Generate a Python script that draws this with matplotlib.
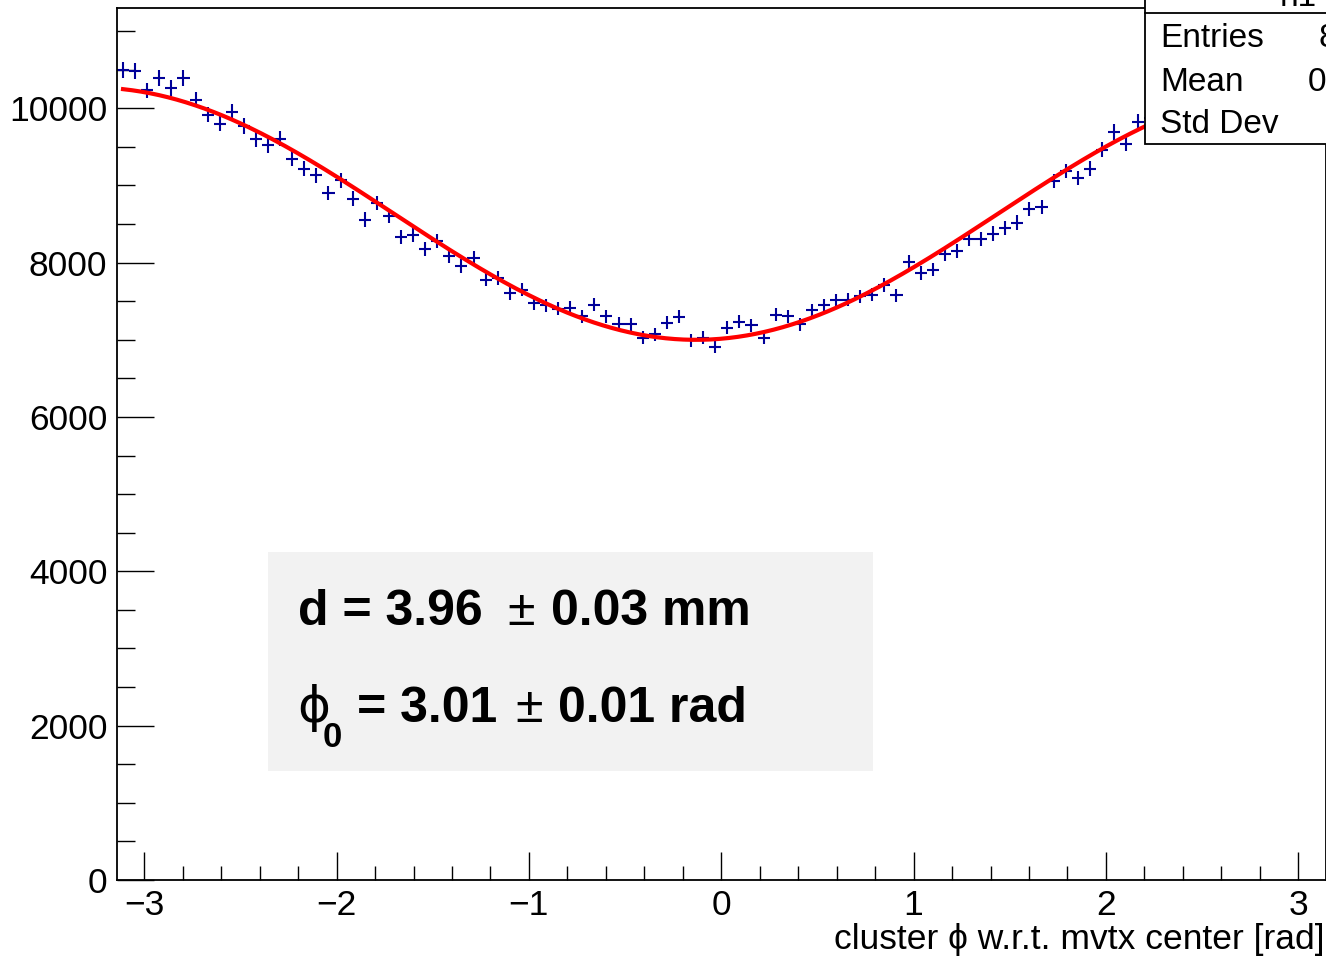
# Cluster phi distribution w.r.t. the MVTX centre, with the offset fit.

import numpy as np
import matplotlib
matplotlib.use("Agg")
import matplotlib.pyplot as plt
from matplotlib.patches import Rectangle
from matplotlib.lines import Line2D

plt.rcParams["font.family"] = ["Liberation Sans", "DejaVu Sans"]

# Data --------------------------------------------------------------------

n_bins = 100
phi_lo, phi_hi = -np.pi, np.pi

# bin contents (bins 85-99 sit behind the stats box)
counts = [10492, 10483, 10233, 10393, 10263, 10397, 10113, 9918, 9802, 9952,
          9770, 9598, 9521, 9607, 9348, 9219, 9132, 8903, 9067, 8830,
          8558, 8773, 8601, 8333, 8355, 8182, 8281, 8083, 7953, 8061,
          7781, 7801, 7607, 7651, 7478, 7448, 7405, 7418, 7306, 7457,
          7306, 7211, 7202, 7030, 7069, 7219, 7297, 6995, 7030, 6908,
          7159, 7232, 7189, 7030, 7327, 7306, 7202, 7383, 7448, 7513,
          7522, 7565, 7587, 7707, 7578, 8009, 7867, 7910, 8117, 8151,
          8303, 8303, 8377, 8454, 8519, 8692, 8722, 9059, 9188, 9097,
          9219, 9465, 9693, 9542, 9823, 9880, 9950, 9990, 10060, 10090,
          10140, 10170, 10230, 10250, 10270, 10310, 10300, 10340, 10330, 10360]

# fit parameters: A + B*cos(phi - phi0)
fit_A = 8635.
fit_B = 1635.
fit_phi0 = 3.01

y_ticks = [0, 2000, 4000, 6000, 8000, 10000]
x_ticks = [-3, -2, -1, 0, 1, 2, 3]

stat_names = ["Entries", "Mean", "Std Dev"]
stat_values = ["861842", "0.01379", "1.849"]

# Figure ------------------------------------------------------------------

W, H = 1326, 957
fig = plt.figure(figsize=(W / 100, H / 100), dpi=100)

def fx(x):
    return x / W

def fy(y):
    return 1 - y / H

ax = fig.add_axes([fx(117), fy(880), 1208.5 / W, 872 / H])

counts = np.array(counts, dtype=float)
edges = np.linspace(phi_lo, phi_hi, n_bins + 1)
centers = 0.5 * (edges[1:] + edges[:-1])
half_w = 0.5 * (edges[1] - edges[0])

ax.errorbar(centers, counts, xerr=half_w, yerr=np.sqrt(counts),
            fmt="none", ecolor="#000099", elinewidth=1.5, capsize=0, zorder=2)

phi_fit = np.linspace(centers[0], centers[-1], 400)
ax.plot(phi_fit, fit_A + fit_B * np.cos(phi_fit - fit_phi0),
        color="red", lw=3.0, zorder=3)

ax.set_xlim(phi_lo, phi_hi)
ax.set_ylim(0, 11300)

ax.set_xticks(x_ticks)
ax.set_xticks(np.arange(-3, 3.01, 0.2), minor=True)
ax.set_yticks(y_ticks)
ax.set_yticks(np.arange(0, 11001, 500), minor=True)

ax.tick_params(axis="both", which="both", direction="in", top=False, right=False,
               width=1.0, colors="black", labelsize=25.5)
ax.tick_params(axis="y", which="major", length=26.6, pad=7)
ax.tick_params(axis="y", which="minor", length=13.3)
ax.tick_params(axis="x", which="major", length=20, pad=6.5)
ax.tick_params(axis="x", which="minor", length=10)

for s in ax.spines.values():
    s.set_linewidth(1.3)

# x axis title, right aligned at the axis end
fig.text(fx(1325), fy(949), "cluster ϕ w.r.t. mvtx center [rad]",
         ha="right", va="baseline", fontsize=25.5)

# Fit result box ----------------------------------------------------------

fig.add_artist(Rectangle((fx(268), fy(771)), (873 - 268) / W, (771 - 552) / H,
                         transform=fig.transFigure, facecolor="#f2f2f2",
                         edgecolor="none", zorder=1))

bold = dict(fontsize=36, fontweight="bold", ha="left", va="baseline", zorder=4)
thin = dict(fontsize=36, ha="left", va="baseline", zorder=4)

fig.text(fx(298), fy(625), "d = 3.96", **bold)
fig.text(fx(507), fy(625), "±", **thin)
fig.text(fx(551), fy(625), "0.03 mm", **bold)

fig.text(fx(297), fy(722), "ϕ", family="DejaVu Sans", **thin)
fig.text(fx(323), fy(747), "0", fontsize=25, fontweight="bold",
         ha="left", va="baseline", zorder=4)
fig.text(fx(357), fy(722), "= 3.01", **bold)
fig.text(fx(515), fy(722), "±", **thin)
fig.text(fx(558), fy(722), "0.01 rad", **bold)

# Stats box (cut by the canvas edge, as in the original canvas) -----------

fig.add_artist(Rectangle((fx(1145), fy(144)), 300 / W, 200 / H,
                         transform=fig.transFigure, facecolor="white",
                         edgecolor="black", lw=1.3, zorder=2))
fig.add_artist(Line2D([fx(1145), fx(1400)], [fy(13), fy(13)],
                      transform=fig.transFigure, color="black", lw=1.3, zorder=3))
fig.text(fx(1280), fy(6), "h1", fontsize=24, ha="left", va="baseline", zorder=4)

stat_y = [47, 91, 133]
stat_x = [1318, 1308, 1340]
for name, val, yy, xx in zip(stat_names, stat_values, stat_y, stat_x):
    fig.text(fx(1160), fy(yy), name, fontsize=24, ha="left", va="baseline", zorder=4)
    fig.text(fx(xx), fy(yy), val, fontsize=24, ha="left", va="baseline", zorder=4)

fig.savefig("out.png", dpi=100)
